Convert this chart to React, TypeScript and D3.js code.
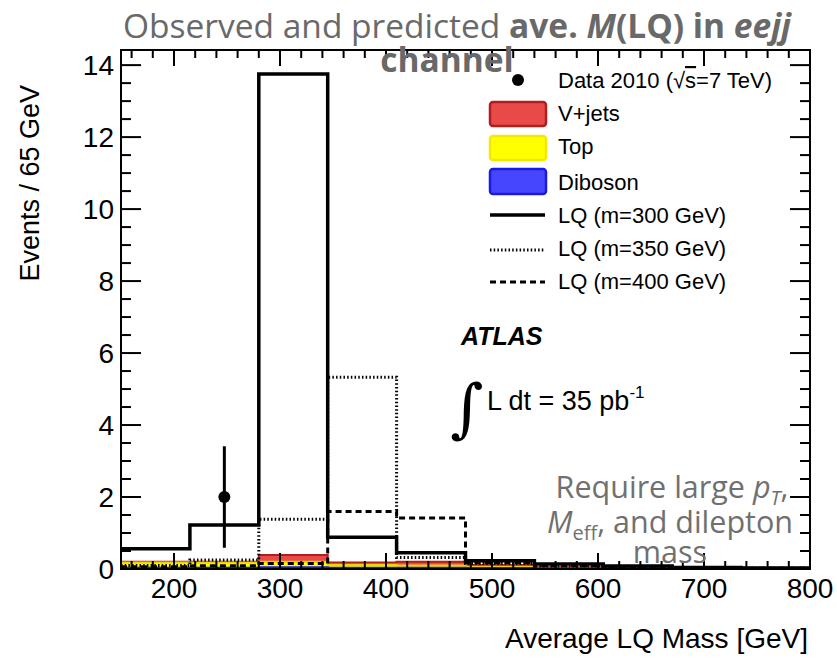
import React from "react";
import * as d3 from "d3";

const binEdges = [150, 215, 280, 345, 410, 475, 540, 605, 670, 735, 800];
const diboson = [0.03, 0.03, 0.04, 0.03, 0.03, 0.02, 0.015, 0.01, 0.008, 0.006];
const topQuark = [0.15, 0.15, 0.16, 0.09, 0.07, 0.04, 0.015, 0.01, 0.005, 0.004];
const vjets = [0.02, 0.02, 0.19, 0.06, 0.1, 0.05, 0.02, 0.01, 0.005, 0.004];
const lq300 = [0.56, 1.22, 13.75, 0.88, 0.45, 0.23, 0.14, 0.08, 0.04, 0.03];
const lq350 = [0.1, 0.25, 1.38, 5.33, 0.32, 0.15, 0.08, 0.05, 0.03, 0.02];
const lq400 = [0.06, 0.09, 0.15, 1.6, 1.42, 0.18, 0.09, 0.05, 0.03, 0.02];
const dataX = [247.5];
const dataY = [2];
const dataErr = [1.41];
const xTicks = [200, 300, 400, 500, 600, 700, 800];
const yTicks = [0, 2, 4, 6, 8, 10, 12, 14];

const W = 837, H = 660;
const L = 121, R = 810, T = 50, B = 569;
const x = d3.scaleLinear().domain([150, 800]).range([L, R]);
const y = d3.scaleLinear().domain([0, 14.42]).range([B, T]);

function stepPath(vals: number[], closed: boolean) {
  const pts: [number, number][] = [];
  vals.forEach((v, i) => {
    pts.push([x(binEdges[i]), y(v)]);
    pts.push([x(binEdges[i + 1]), y(v)]);
  });
  const line = d3.line<[number, number]>().x(p => p[0]).y(p => p[1]);
  if (closed) {
    const all: [number, number][] = [[x(binEdges[0]), y(0)], ...pts, [x(binEdges[binEdges.length - 1]), y(0)]];
    return line(all) + "Z";
  }
  return line(pts) as string;
}

const sansL = "'Liberation Sans', Arial, Helvetica, sans-serif";
const titleF = "'Open Sans', 'Noto Sans', sans-serif";

export default function App() {
  const cumD = diboson;
  const cumT = diboson.map((v, i) => v + topQuark[i]);
  const cumV = cumT.map((v, i) => v + vjets[i]);

  const xMinor = d3.range(160, 801, 20);
  const yMinor = d3.range(0, 14.42, 0.5);

  return (
    <svg width={W} height={H} style={{ display: "block", position: "absolute", left: 0, top: 0, background: "#fff" }}>
      <defs>
        <clipPath id="plotclip"><rect x={L} y={T} width={R - L} height={B - T} /></clipPath>
      </defs>
      <g clipPath="url(#plotclip)">
        <path d={stepPath(cumV, true)} fill="#e84a4a" stroke="#b21d1d" strokeWidth={2} />
        <path d={stepPath(cumT, true)} fill="#ffff00" stroke="#f0d000" strokeWidth={2} />
        <path d={stepPath(cumD, true)} fill="#4646ff" stroke="#1a1ae0" strokeWidth={2.5} />
        <path d={stepPath(lq350, false)} fill="none" stroke="#000" strokeWidth={3} strokeDasharray="1.5,2.2" />
        <path d={stepPath(lq400, false)} fill="none" stroke="#000" strokeWidth={3} strokeDasharray="6,4" />
        <path d={stepPath(lq300, false)} fill="none" stroke="#000" strokeWidth={3.5} />
      </g>
      {dataX.map((dx, i) => (
        <g key={i}>
          <line x1={x(dx)} x2={x(dx)} y1={y(dataY[i] - dataErr[i])} y2={y(dataY[i] + dataErr[i])} stroke="#000" strokeWidth={3} />
          <circle cx={x(dx)} cy={y(dataY[i])} r={6} fill="#000" />
        </g>
      ))}
      <rect x={L} y={T} width={R - L} height={B - T} fill="none" stroke="#000" strokeWidth={2} />
      {xMinor.map(v => {
        const major = v % 100 === 0;
        const len = major ? 16 : 8;
        return (
          <g key={"xt" + v}>
            <line x1={x(v)} x2={x(v)} y1={B} y2={B - len} stroke="#000" strokeWidth={2} />
            <line x1={x(v)} x2={x(v)} y1={T} y2={T + len} stroke="#000" strokeWidth={2} />
          </g>
        );
      })}
      {yMinor.map(v => {
        const major = Math.abs(v % 2) < 1e-9;
        const len = major ? 20 : 10;
        return (
          <g key={"yt" + v}>
            <line x1={L} x2={L + len} y1={y(v)} y2={y(v)} stroke="#000" strokeWidth={2} />
            <line x1={R} x2={R - len} y1={y(v)} y2={y(v)} stroke="#000" strokeWidth={2} />
          </g>
        );
      })}
      {xTicks.map(v => (
        <text key={"xl" + v} x={x(v)} y={598} textAnchor="middle" fontFamily={sansL} fontSize={28}>{v}</text>
      ))}
      {yTicks.map(v => (
        <text key={"yl" + v} x={114} y={y(v) + 10} textAnchor="end" fontFamily={sansL} fontSize={28}>{v}</text>
      ))}
      <text x={808} y={648} textAnchor="end" fontFamily={sansL} fontSize={28}>Average LQ Mass [GeV]</text>
      <text transform="translate(39,85) rotate(-90)" textAnchor="end" fontFamily={sansL} fontSize={27}>Events / 65 GeV</text>

      <circle cx={518} cy={80} r={6} fill="#000" />
      <text x={558} y={88} fontFamily={sansL} fontSize={22}>Data 2010 (√<tspan textDecoration="overline">s</tspan>=7 TeV)</text>
      <rect x={490} y={102} width={56} height={24} rx={3} fill="#e84a4a" stroke="#b21d1d" strokeWidth={2.5} />
      <text x={558} y={121} fontFamily={sansL} fontSize={22}>V+jets</text>
      <rect x={490} y={136} width={56} height={24} rx={3} fill="#ffff00" stroke="#f5e800" strokeWidth={2.5} />
      <text x={558} y={154} fontFamily={sansL} fontSize={22}>Top</text>
      <rect x={490} y={169} width={56} height={25} rx={3} fill="#4646ff" stroke="#1a1ae0" strokeWidth={2.5} />
      <text x={558} y={190} fontFamily={sansL} fontSize={22}>Diboson</text>
      <line x1={490} x2={545} y1={215} y2={215} stroke="#000" strokeWidth={3.5} />
      <text x={558} y={223} fontFamily={sansL} fontSize={22}>LQ (m=300 GeV)</text>
      <line x1={490} x2={545} y1={250} y2={250} stroke="#000" strokeWidth={3} strokeDasharray="1.5,2.2" />
      <text x={558} y={256} fontFamily={sansL} fontSize={22}>LQ (m=350 GeV)</text>
      <line x1={490} x2={545} y1={282} y2={282} stroke="#000" strokeWidth={3} strokeDasharray="6,4" />
      <text x={558} y={289} fontFamily={sansL} fontSize={22}>LQ (m=400 GeV)</text>

      <text x={461} y={345} fontFamily={sansL} fontSize={25} fontWeight="bold" fontStyle="italic">ATLAS</text>
      <text x={450} y={430} fontFamily={"'DejaVu Serif', serif"} fontSize={64}>∫</text>
      <text x={487} y={410} fontFamily={sansL} fontSize={27}>L dt = 35 pb<tspan dy={-12} fontSize={17}>-1</tspan></text>

      <g fontFamily={titleF} fontSize={30.5} fill="#707070" textAnchor="middle">
        <text x={672} y={498}>Require large <tspan fontStyle="italic">p</tspan><tspan fontStyle="italic" fontSize={20} dy={7}>T</tspan><tspan dy={-7}>,</tspan></text>
        <text x={670} y={533}><tspan fontStyle="italic">M</tspan><tspan fontSize={20} dy={7}>eff</tspan><tspan dy={-7}>, and dilepton</tspan></text>
        <text x={670} y={563}>mass</text>
      </g>

      <g fontFamily={titleF} fontSize={33.5} fill="#696969" textAnchor="middle">
        <text x={457} y={38}>Observed and predicted <tspan fontWeight="bold">ave. </tspan><tspan fontWeight="bold" fontStyle="italic">M</tspan><tspan fontWeight="bold">(LQ) in </tspan><tspan fontWeight="bold" fontStyle="italic">eejj</tspan></text>
        <text x={447} y={72} fontWeight="bold">channel</text>
      </g>
    </svg>
  );
}
